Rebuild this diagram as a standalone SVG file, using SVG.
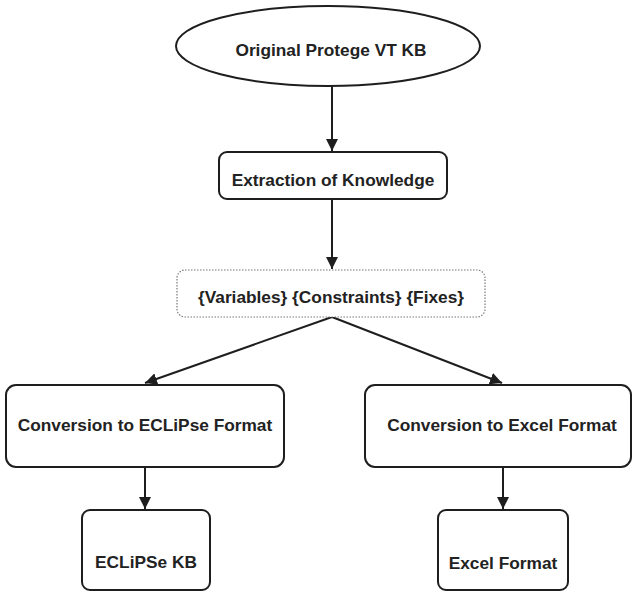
<svg xmlns="http://www.w3.org/2000/svg" width="634" height="592" viewBox="0 0 634 592">
  <style>
    .node { fill: #ffffff; stroke: #1e1e1e; stroke-width: 2; }
    .dotted { fill: #ffffff; stroke: #777777; stroke-width: 1.2; stroke-dasharray: 1.5 1.5; }
    .label { font-family: "Liberation Sans", Arial, sans-serif; font-weight: bold; font-size: 17.3px; fill: #222222; text-anchor: middle; }
    .edge { stroke: #1e1e1e; stroke-width: 2; fill: none; marker-end: url(#arrow); }
  </style>
  <defs>
    <marker id="arrow" viewBox="0 0 10 10" refX="10" refY="5" markerWidth="6" markerHeight="6" orient="auto" markerUnits="strokeWidth">
      <path d="M0,0 L10,5 L0,10 z" fill="#1e1e1e"/>
    </marker>
  </defs>
  <rect width="634" height="592" fill="#ffffff"/>
  <g id="connectors">
    <line class="edge" x1="332" y1="86" x2="332" y2="151"/>
    <line class="edge" x1="332" y1="200" x2="332" y2="269"/>
    <line class="edge" x1="332" y1="317" x2="145" y2="383"/>
    <line class="edge" x1="332" y1="317" x2="502" y2="383"/>
    <line class="edge" x1="145" y1="467" x2="145" y2="509"/>
    <line class="edge" x1="503" y1="467" x2="503" y2="509"/>
  </g>
  <g id="original">
    <ellipse class="node" cx="328" cy="46" rx="152" ry="40"/>
    <text class="label" x="331" y="56">Original Protege VT KB</text>
  </g>
  <g id="extraction">
    <rect class="node" x="219" y="152" width="228" height="47" rx="8"/>
    <text class="label" x="333" y="186">Extraction of Knowledge</text>
  </g>
  <g id="sets">
    <rect class="dotted" x="177" y="270" width="308" height="47" rx="8"/>
    <text class="label" x="331" y="303">{Variables} {Constraints} {Fixes}</text>
  </g>
  <g id="conv-eclipse">
    <rect class="node" x="6" y="385" width="278" height="82" rx="10"/>
    <text class="label" x="145" y="431">Conversion to ECLiPse Format</text>
  </g>
  <g id="conv-excel">
    <rect class="node" x="365" y="385" width="266" height="82" rx="10"/>
    <text class="label" x="502" y="431">Conversion to Excel Format</text>
  </g>
  <g id="eclipse-kb">
    <rect class="node" x="82" y="510" width="128" height="80" rx="8"/>
    <text class="label" x="146" y="568">ECLiPSe KB</text>
  </g>
  <g id="excel-format">
    <rect class="node" x="438" y="510" width="130" height="80" rx="8"/>
    <text class="label" x="503" y="569">Excel Format</text>
  </g>
</svg>
